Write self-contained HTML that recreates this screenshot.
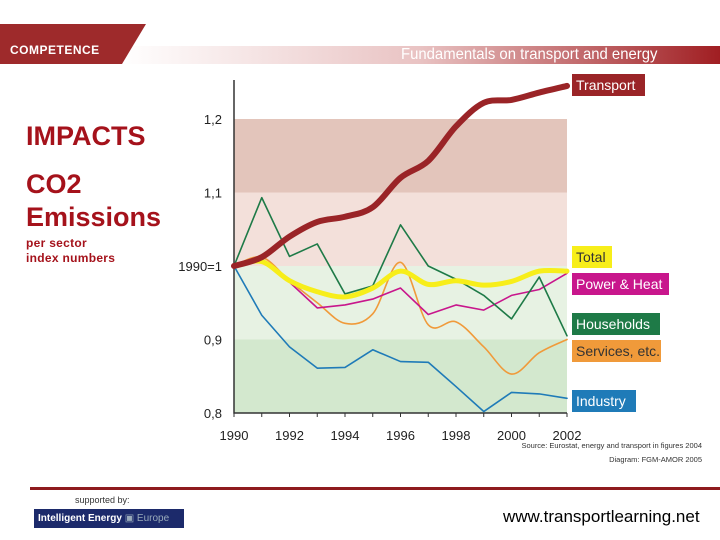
<!DOCTYPE html>
<html><head><meta charset="utf-8"><style>
body{margin:0;width:720px;height:540px;background:#fff;font-family:"Liberation Sans",sans-serif;overflow:hidden;position:relative}
.a{position:absolute}
</style></head><body>
<div class="a" style="left:0;top:24px;width:720px;height:40px">
<svg width="720" height="40"><defs><linearGradient id="g" x1="0" x2="1"><stop offset="0" stop-color="#fff"/><stop offset="0.5" stop-color="#e9c3c3"/><stop offset="1" stop-color="#a01e22"/></linearGradient></defs>
<rect x="120" y="22" width="600" height="18" fill="url(#g)"/>
<polygon points="0,0 146,0 122,40 0,40" fill="#9e2a2b"/></svg></div>
<div class="a" style="left:10px;top:43px;color:#fff;font-weight:bold;font-size:12px;letter-spacing:0.5px">COMPETENCE</div>
<div class="a" style="left:401px;top:46px;color:#fff;font-size:16px;transform:scaleX(0.93);transform-origin:left">Fundamentals on transport and energy</div>
<div class="a" style="left:26px;top:121px;color:#a5121b;font-size:27px;font-weight:bold">IMPACTS</div>
<div class="a" style="left:26px;top:168px;color:#a5121b;font-size:27px;line-height:33px;font-weight:bold">CO2<br>Emissions</div>
<div class="a" style="left:26px;top:236px;color:#a5121b;font-size:12px;line-height:15px;font-weight:bold;letter-spacing:0.3px">per sector<br>index numbers</div>
<svg class="a" id="chart" style="left:0;top:0" width="720" height="480"></svg>
<div class="a" style="left:30px;top:487px;width:690px;height:3px;background:#8e1b1e"></div>
<div class="a" style="left:75px;top:495px;font-size:9px;color:#333">supported by:</div>
<div class="a" style="left:34px;top:509px;width:150px;height:19px;background:#1c2a6b;color:#fff;font-size:10px;line-height:19px;padding-left:4px;box-sizing:border-box;font-weight:bold">Intelligent Energy <span style="font-weight:normal;color:#9ab">▣ Europe</span></div>
<div class="a" style="left:503px;top:507px;font-size:17px;color:#000">www.transportlearning.net</div>
<script>
const years=[1990,1991,1992,1993,1994,1995,1996,1997,1998,1999,2000,2001,2002];
const xTicks=[1990,1992,1994,1996,1998,2000,2002];
const yTicks=[0.8,0.9,1.0,1.1,1.2];
const yTickLabels=["0,8","0,9","1990=1","1,1","1,2"];
const transport=[1.0,1.012,1.04,1.06,1.067,1.08,1.12,1.143,1.19,1.222,1.226,1.236,1.245];
const households=[1.0,1.093,1.013,1.03,0.962,0.973,1.056,1.0,0.982,0.96,0.928,0.985,0.905];
const total=[1.0,1.006,0.98,0.965,0.958,0.97,0.993,0.975,0.98,0.974,0.979,0.993,0.993];
const power=[1.0,1.01,0.978,0.943,0.947,0.955,0.97,0.934,0.947,0.94,0.96,0.968,0.99];
const services=[1.0,1.012,0.98,0.95,0.922,0.935,1.005,0.92,0.924,0.89,0.853,0.882,0.9];
const industry=[1.0,0.933,0.89,0.861,0.862,0.886,0.87,0.869,0.836,0.802,0.828,0.826,0.82];
const X=v=>234+(v-1990)*(567-234)/12;
const Y=v=>266-(v-1.0)*735;
const svg=document.getElementById('chart');
const NS='http://www.w3.org/2000/svg';
function mk(t,a,p){const e=document.createElementNS(NS,t);for(const k in a)e.setAttribute(k,a[k]);(p||svg).appendChild(e);return e;}
const bands=[[1.1,1.2,'#e3c5bb'],[1.0,1.1,'#f3e0da'],[0.9,1.0,'#e7f2e3'],[0.8,0.9,'#d3e8ce']];
bands.forEach(b=>{const r=mk('rect',{x:X(1990),y:Y(b[1]),width:X(2002)-X(1990),height:Y(b[0])-Y(b[1]),fill:b[2]});

});
const ax=mk('path',{d:`M${X(1990)},80V${Y(0.8)}H${X(2002)}`,stroke:'#333','stroke-width':1.5,fill:'none'});


years.forEach(y=>mk('line',{x1:X(y),x2:X(y),y1:Y(0.8),y2:Y(0.8)+4,stroke:'#333'}));
xTicks.forEach(y=>{const t=mk('text',{x:X(y),y:440,'text-anchor':'middle','font-size':13,fill:'#222'});t.textContent=y;

});
yTicks.forEach((v,i)=>{const t=mk('text',{x:222,y:Y(v)+5,'text-anchor':'end','font-size':13,fill:'#222'});t.textContent=yTickLabels[i];

});
function line(data,color,w,name,smooth){
 const pts=data.map((v,i)=>[X(years[i]),Y(v)]);
 let d='M'+pts[0];
 if(smooth){for(let i=1;i<pts.length;i++){const p0=pts[i-2]||pts[i-1],p1=pts[i-1],p2=pts[i],p3=pts[i+1]||p2;
 d+=`C${p1[0]+(p2[0]-p0[0])/6},${p1[1]+(p2[1]-p0[1])/6} ${p2[0]-(p3[0]-p1[0])/6},${p2[1]-(p3[1]-p1[1])/6} ${p2[0]},${p2[1]}`;}}
 else d='M'+pts.map(p=>p.join(',')).join('L');
 const e=mk('path',{d,stroke:color,'stroke-width':w,fill:'none','stroke-linejoin':'round','stroke-linecap':'round'});
 
 
}
line(industry,'#1f7bb8',1.6,'industry-line');
line(services,'#f09a3a',1.6,'services-line',true);
line(power,'#c8168c',1.6,'power-heat-line');
line(households,'#1e7a47',1.6,'households-line');
line(total,'#f7ee1a',5,'total-line',true);
line(transport,'#9a2427',6,'transport-line',true);
const labels=[['Transport',74,73,'#9a2427','#fff'],['Total',246,40,'#f7ee1a','#333'],['Power & Heat',273,97,'#c8168c','#fff'],['Households',313,88,'#1e7a47','#fff'],['Services, etc.',340,89,'#f09a3a','#333'],['Industry',390,64,'#1f7bb8','#fff']];
labels.forEach(l=>{const g=mk('g',{});


mk('rect',{x:572,y:l[1],width:l[2],height:22,fill:l[3]},g);
const t=mk('text',{x:576,y:l[1]+16,'font-size':14,fill:l[4]},g);t.textContent=l[0];});
const s1=mk('text',{x:702,y:448,'text-anchor':'end','font-size':7.5,fill:'#333'});s1.textContent='Source: Eurostat, energy and transport in figures 2004';


const s2=mk('text',{x:702,y:462,'text-anchor':'end','font-size':7.5,fill:'#333'});s2.textContent='Diagram: FGM-AMOR 2005';


</script>
</body></html>
